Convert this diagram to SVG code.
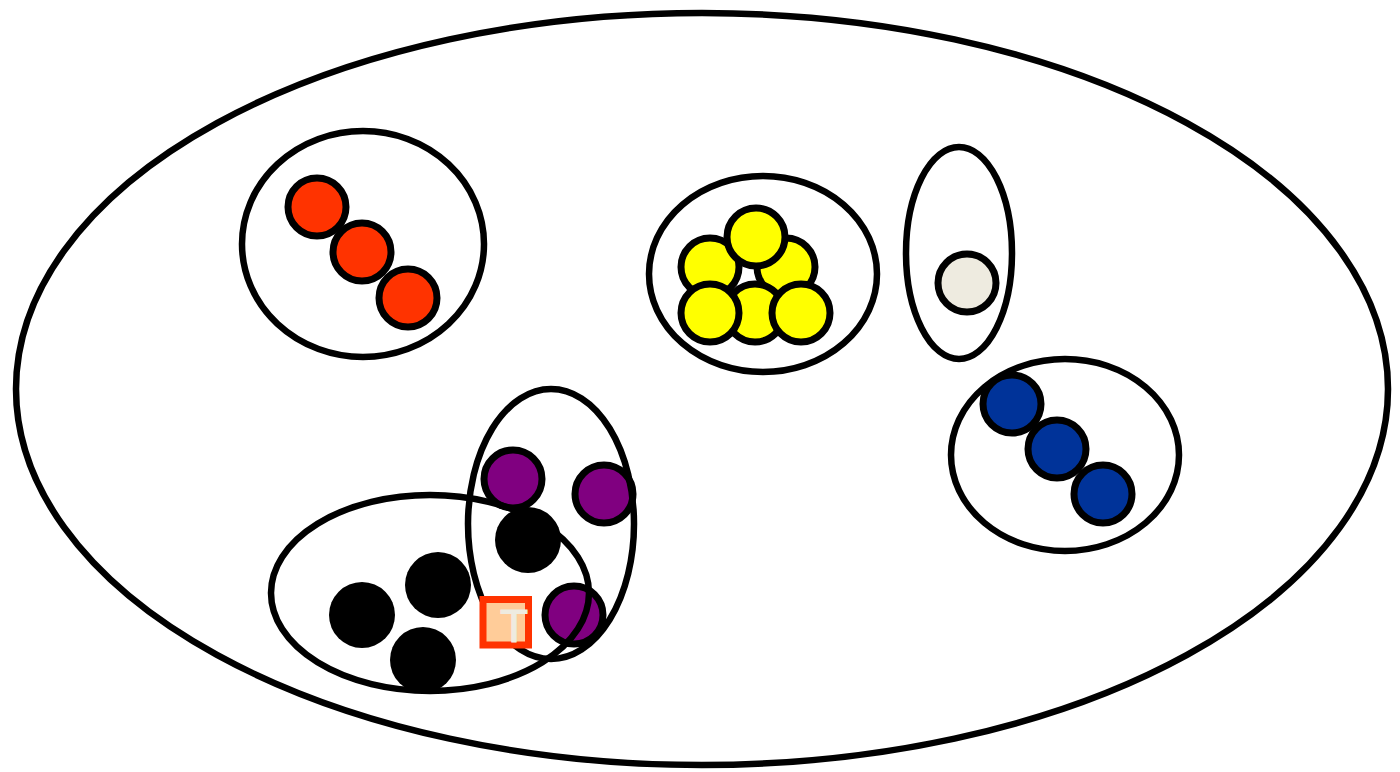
<svg xmlns="http://www.w3.org/2000/svg" width="1400" height="772" viewBox="0 0 1400 772">
<style>
.set{fill:none;stroke:#000;stroke-width:6.5}
.el{stroke:#000;stroke-width:7}
.red{fill:#FF3300}.yel{fill:#FFFF00}.gry{fill:#EEEBE0}.blu{fill:#003399}.pur{fill:#800080}
.blk{fill:#000}
</style>
<rect width="1400" height="772" fill="#fff"/>
<g id="universe"><ellipse class="set" cx="702" cy="389" rx="686" ry="376"/></g>
<g id="red-set">
<ellipse class="set" cx="363" cy="244" rx="121" ry="113"/>
<circle class="el red" cx="317" cy="207" r="29"/>
<circle class="el red" cx="362" cy="252" r="29"/>
<circle class="el red" cx="408" cy="298" r="29"/>
</g>
<g id="yellow-set">
<ellipse class="set" cx="763" cy="274" rx="114" ry="98"/>
<circle class="el yel" cx="710" cy="267" r="29"/>
<circle class="el yel" cx="786" cy="267" r="29"/>
<circle class="el yel" cx="755" cy="313" r="29"/>
<circle class="el yel" cx="756" cy="237" r="29"/>
<circle class="el yel" cx="710" cy="313" r="29"/>
<circle class="el yel" cx="801" cy="313" r="29"/>
</g>
<g id="grey-set">
<ellipse class="set" cx="959" cy="253" rx="53" ry="106"/>
<circle class="el gry" cx="967" cy="283" r="29"/>
</g>
<g id="blue-set">
<ellipse class="set" cx="1065" cy="455" rx="114" ry="96"/>
<circle class="el blu" cx="1012" cy="404" r="29"/>
<circle class="el blu" cx="1057" cy="449" r="29"/>
<circle class="el blu" cx="1103" cy="494" r="29"/>
</g>
<g id="purple-members">
<circle class="el pur" cx="513" cy="479" r="29"/>
<circle class="el pur" cx="604" cy="494" r="29"/>
<circle class="el pur" cx="574" cy="615" r="29"/>
</g>
<g id="black-members">
<circle class="blk" cx="528" cy="540" r="33"/>
<circle class="blk" cx="438" cy="585" r="33"/>
<circle class="blk" cx="362" cy="615" r="33"/>
<circle class="blk" cx="423" cy="660" r="33"/>
</g>
<g id="black-set"><ellipse class="set" cx="430" cy="593" rx="159" ry="98"/></g>
<g id="purple-set"><ellipse class="set" cx="551" cy="524" rx="83" ry="135"/></g>
<g id="t-node">
<rect x="483" y="599.5" width="45.5" height="45.5" fill="#FFCC99" stroke="#FF3300" stroke-width="7"/>
<text x="514" y="642" font-family="Liberation Sans, Arial, sans-serif" font-size="46" fill="#EEEBE0" stroke="#EEEBE0" stroke-width="1" text-anchor="middle">T</text>
</g>
<g id="connectors"/>
</svg>
